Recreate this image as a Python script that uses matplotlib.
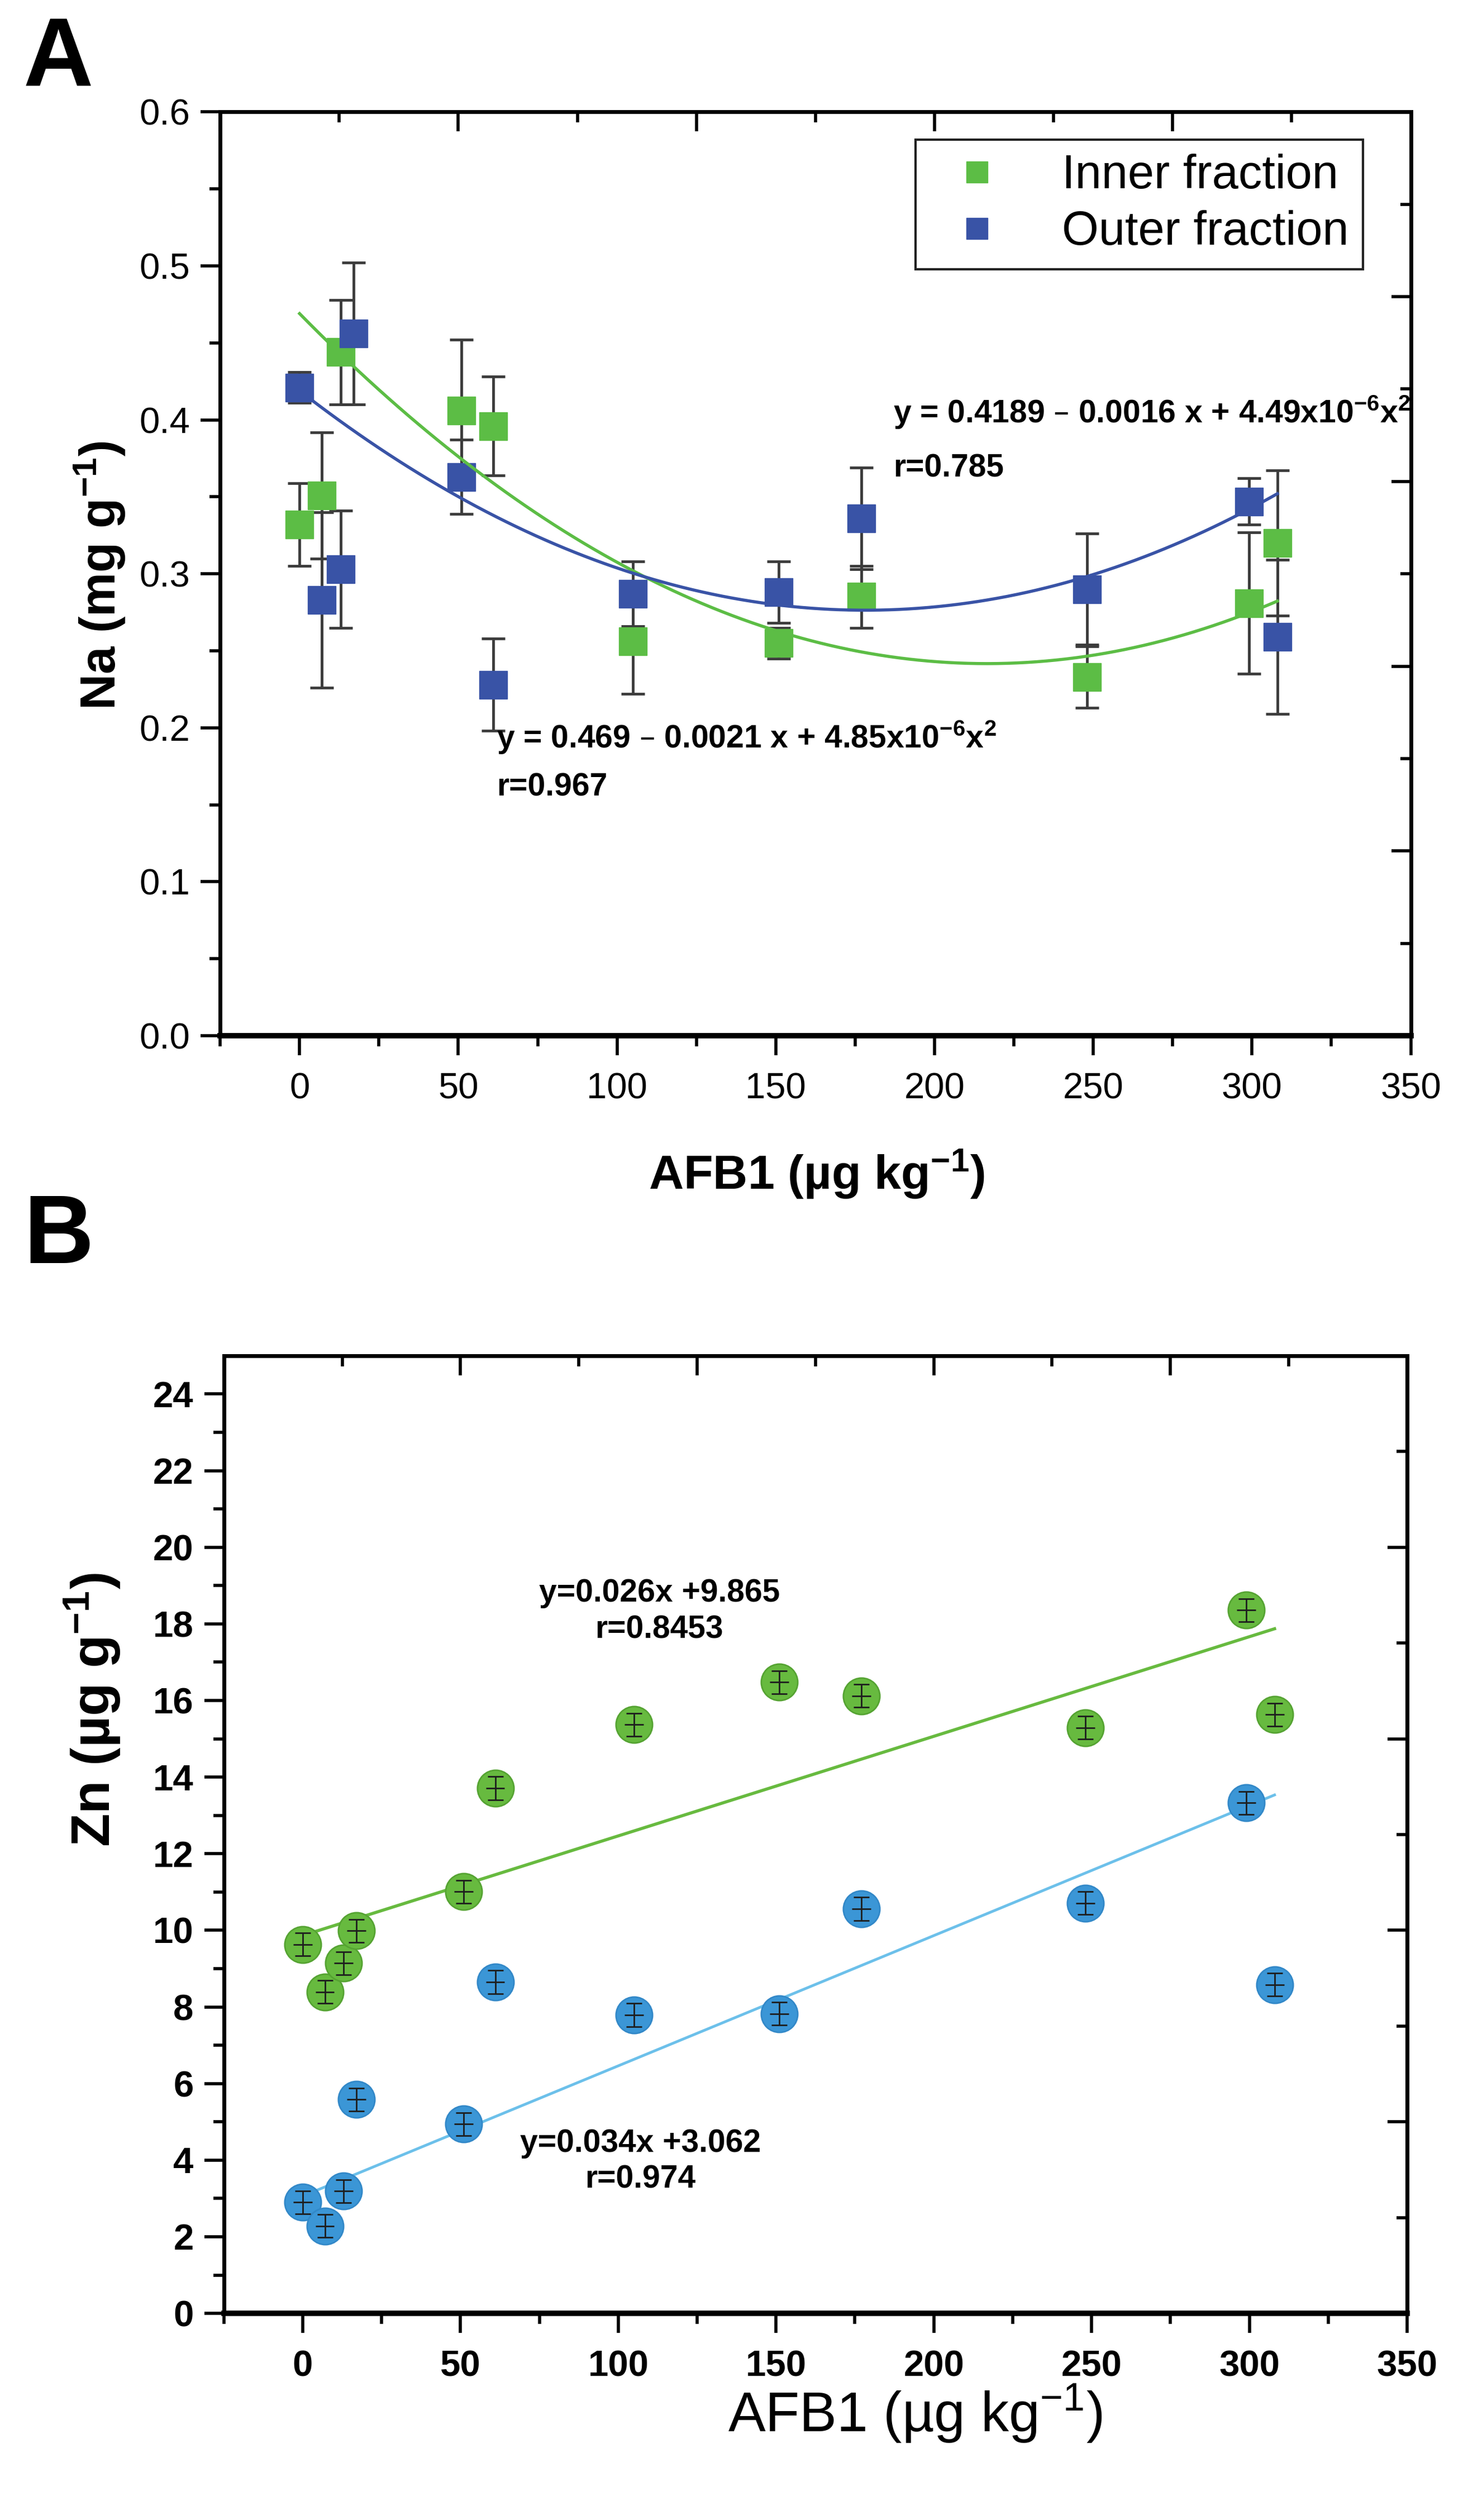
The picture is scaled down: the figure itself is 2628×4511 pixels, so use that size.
import numpy as np
import matplotlib
matplotlib.use('Agg')
import matplotlib.pyplot as plt
from matplotlib.lines import Line2D

# fonts: narrow Arial-like look of the original
plt.rcParams['font.family'] = ['Liberation Sans Narrow', 'Liberation Sans', 'DejaVu Sans']
plt.rcParams['mathtext.default'] = 'regular'

# ---------------- data ----------------
# AFB1 levels (µg/kg)
afb1 = [0, 7, 13, 17, 51, 61, 105, 151, 177, 248, 299, 308]

# panel A : Na (mg/g)
na_inner_x = [0, 7, 13, 51, 61, 105, 151, 177, 248, 299, 308]
na_inner = [0.332, 0.351, 0.444, 0.406, 0.396, 0.256, 0.255, 0.285, 0.233, 0.281, 0.320]
na_inner_err = [0.027, 0.041, 0.034, 0.046, 0.032, 0.034, 0.010, 0.020, 0.020, 0.046, 0.047]
na_outer = [0.421, 0.283, 0.303, 0.456, 0.363, 0.228, 0.287, 0.288, 0.336, 0.290, 0.347, 0.259]
na_outer_err = [0.010, 0.057, 0.038, 0.046, 0.024, 0.030, 0.021, 0.020, 0.033, 0.036, 0.015, 0.050]
na_inner_fit = [4.85e-6, -0.0021, 0.469]   # x^2, x, 1
na_outer_fit = [4.49e-6, -0.0016, 0.4189]

# panel B : Zn (µg/g)
zn_inner = [9.63, 8.39, 9.14, 9.99, 11.01, 13.71, 15.37, 16.48, 16.12, 15.29, 18.36, 15.63]
zn_inner_err = [0.3, 0.3, 0.3, 0.3, 0.3, 0.3, 0.3, 0.3, 0.3, 0.3, 0.3, 0.3]
zn_outer = [2.90, 2.28, 3.19, 5.58, 4.94, 8.65, 7.79, 7.82, 10.56, 10.71, 13.33, 8.58]
zn_outer_err = [0.3, 0.3, 0.3, 0.3, 0.3, 0.3, 0.3, 0.3, 0.3, 0.3, 0.3, 0.3]
zn_inner_fit = [0.026, 9.865]
zn_outer_fit = [0.034, 3.062]

green_a = '#5cbd45'
blue_a = '#3953a6'
green_b = '#67ba3f'
blue_b = '#3b96d6'
line_b = '#6cc0ea'

fig = plt.figure(figsize=(26.28, 45.11), dpi=100)
ax1 = fig.add_axes([0.150, 0.589, 0.811, 0.3666])
ax2 = fig.add_axes([0.1525, 0.082, 0.806, 0.380])


def frame(ax, xlim, ylim, ymajor, yminor, top_major, top_minor, right_major, right_minor, bold):
    ax.set_xlim(*xlim)
    ax.set_ylim(*ylim)
    ax.set_xticks([0, 50, 100, 150, 200, 250, 300, 350])
    ax.set_xticks([-25, 25, 75, 125, 175, 225, 275, 325], minor=True)
    ax.set_yticks(ymajor)
    ax.set_yticks(yminor, minor=True)
    ax.tick_params(which='major', direction='out', length=25, width=4, labelsize=47, pad=14)
    ax.tick_params(which='minor', direction='out', length=14, width=4)
    ax.tick_params(axis='x', which='major', pad=22)
    for lab in ax.get_xticklabels() + ax.get_yticklabels():
        lab.set_fontweight('bold' if bold else 'normal')
    for s in ax.spines.values():
        s.set_linewidth(5)
    ax.spines['bottom'].set_linewidth(7)
    # top / right axes with their own (Origin style) divisions
    top = ax.secondary_xaxis('top')
    top.set_xticks(top_major)
    top.set_xticks(top_minor, minor=True)
    top.xaxis.set_ticklabels([])
    top.tick_params(which='major', direction='in', length=25, width=4)
    top.tick_params(which='minor', direction='in', length=14, width=4)
    top.spines['top'].set_linewidth(5)
    right = ax.secondary_yaxis('right')
    right.set_yticks(right_major)
    right.set_yticks(right_minor, minor=True)
    right.yaxis.set_ticklabels([])
    right.tick_params(which='major', direction='in', length=25, width=4)
    right.tick_params(which='minor', direction='in', length=14, width=4)
    right.spines['right'].set_linewidth(5)


# ---------------- panel A ----------------
frame(ax1, (-25, 350), (0, 0.6),
      [0.0, 0.1, 0.2, 0.3, 0.4, 0.5, 0.6], [0.05, 0.15, 0.25, 0.35, 0.45, 0.55],
      [-25, 50, 125, 200, 275, 350], [12.5, 87.5, 162.5, 237.5, 312.5],
      [0, 0.12, 0.24, 0.36, 0.48, 0.6], [0.06, 0.18, 0.30, 0.42, 0.54], False)
ax1.yaxis.set_major_formatter(matplotlib.ticker.FormatStrFormatter('%.1f'))

ax1.errorbar(na_inner_x, na_inner, yerr=na_inner_err, fmt='none', ecolor='#3c3c3c',
             elinewidth=3.5, capsize=15, capthick=3.5, zorder=2)
ax1.errorbar(afb1, na_outer, yerr=na_outer_err, fmt='none', ecolor='#3c3c3c',
             elinewidth=3.5, capsize=15, capthick=3.5, zorder=2)
ax1.plot(na_inner_x, na_inner, 's', color=green_a, ms=36, zorder=3)
ax1.plot(afb1, na_outer, 's', color=blue_a, ms=36, zorder=3)

xs = np.linspace(0, 308, 200)
ax1.plot(xs, np.polyval(na_inner_fit, xs), color=green_a, lw=4, zorder=4)
ax1.plot(xs, np.polyval(na_outer_fit, xs), color=blue_a, lw=4, zorder=4)

ax1.text(187, 0.398, 'y = 0.4189 – 0.0016 x + 4.49x10$^{-6}$x$^{2}$', fontsize=41,
         fontweight='bold', ha='left', va='baseline')
ax1.text(187, 0.363, 'r=0.785', fontsize=41, fontweight='bold', ha='left', va='baseline')
ax1.text(62, 0.187, 'y = 0.469 – 0.0021 x + 4.85x10$^{-6}$x$^{2}$', fontsize=41,
         fontweight='bold', ha='left', va='baseline')
ax1.text(62, 0.156, 'r=0.967', fontsize=41, fontweight='bold', ha='left', va='baseline')

handles = [Line2D([], [], marker='s', ls='none', color=green_a, ms=28),
           Line2D([], [], marker='s', ls='none', color=blue_a, ms=28)]
leg = ax1.legend(handles, ['Inner fraction', 'Outer fraction'], loc='upper right',
                 bbox_to_anchor=(0.96, 0.97), fontsize=61, frameon=True, fancybox=False,
                 edgecolor='#222222', framealpha=1, borderpad=0.3, handletextpad=0.8,
                 labelspacing=0.25, borderaxespad=0)
leg.get_frame().set_linewidth(3)

ax1.set_xlabel('AFB1 (µg kg$^{-1}$)', fontsize=62, fontweight='bold')
ax1.set_ylabel('Na (mg g$^{-1}$)', fontsize=64, fontweight='bold')
ax1.xaxis.set_label_coords(0.501, -0.121)
ax1.yaxis.set_label_coords(-0.078, 0.498)

# ---------------- panel B ----------------
frame(ax2, (-25, 350), (0, 25),
      list(range(0, 25, 2)), list(range(1, 25, 2)),
      [-25, 50, 125, 200, 275, 350], [12.5, 87.5, 162.5, 237.5, 312.5],
      [0, 5, 10, 15, 20, 25], [2.5, 7.5, 12.5, 17.5, 22.5], True)

ax2.plot(xs, np.polyval(zn_inner_fit, xs), color=green_b, lw=4, zorder=2)
ax2.plot(xs, np.polyval(zn_outer_fit, xs), color=line_b, lw=3.5, zorder=2)
ax2.plot(afb1, zn_inner, 'o', color=green_b, mec='#55a332', mew=2, ms=47, zorder=3)
ax2.plot(afb1, zn_outer, 'o', color=blue_b, mec='#3288c8', mew=2, ms=47, zorder=3)
# small error crosses drawn over the circles
ax2.errorbar(afb1, zn_inner, yerr=zn_inner_err, fmt='none', ecolor='#1e1e1e',
             elinewidth=2, capsize=10, capthick=2, zorder=4)
ax2.errorbar(afb1, zn_inner, xerr=3, fmt='none', ecolor='#1e1e1e', elinewidth=2, zorder=4)
ax2.errorbar(afb1, zn_outer, yerr=zn_outer_err, fmt='none', ecolor='#1e1e1e',
             elinewidth=2, capsize=10, capthick=2, zorder=4)
ax2.errorbar(afb1, zn_outer, xerr=3, fmt='none', ecolor='#1e1e1e', elinewidth=2, zorder=4)

ax2.text(113, 18.8, 'y=0.026x +9.865', fontsize=41, fontweight='bold', ha='center', va='center')
ax2.text(113, 17.85, 'r=0.8453', fontsize=41, fontweight='bold', ha='center', va='center')
ax2.text(107, 4.43, 'y=0.034x +3.062', fontsize=41, fontweight='bold', ha='center', va='center')
ax2.text(107, 3.5, 'r=0.974', fontsize=41, fontweight='bold', ha='center', va='center')

ax2.set_xlabel('AFB1 (µg kg$^{-1}$)', fontsize=72)
ax2.set_ylabel('Zn (µg g$^{-1}$)', fontsize=70, fontweight='bold')
ax2.xaxis.set_label_coords(0.584, -0.072)
ax2.yaxis.set_label_coords(-0.086, 0.63)

# panel letters
fig.text(0.016, 0.994, 'A', fontsize=125, fontweight='bold', family='Liberation Sans',
         ha='left', va='top')
fig.text(0.016, 0.527, 'B', fontsize=125, fontweight='bold', family='Liberation Sans',
         ha='left', va='top')

fig.savefig('out.png', dpi=100)
